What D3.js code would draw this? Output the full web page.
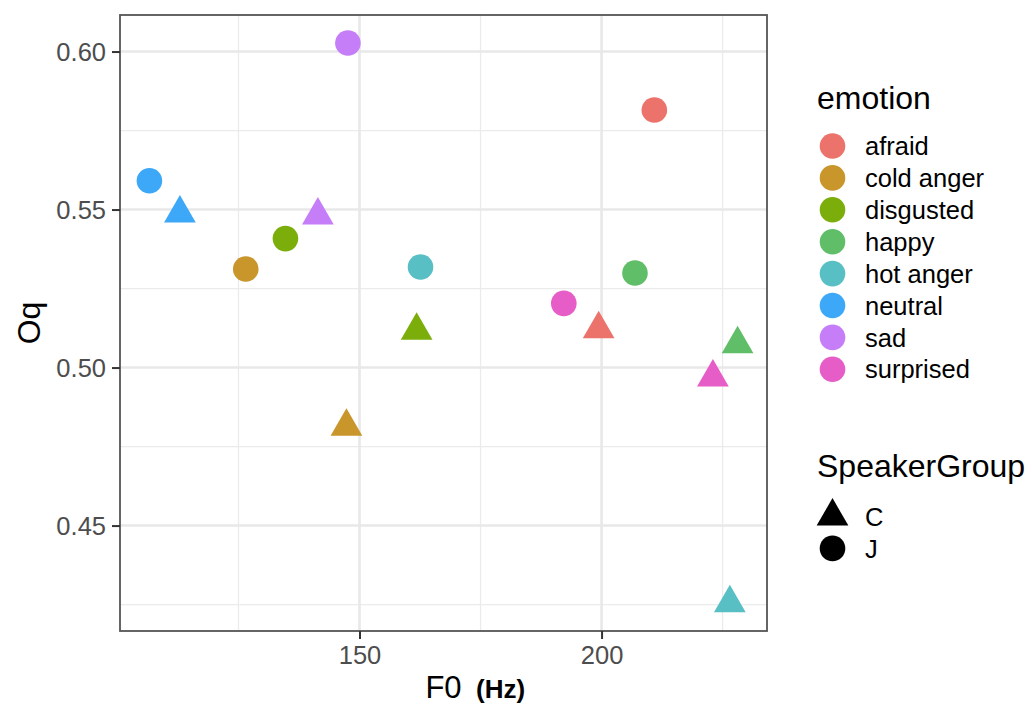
<!DOCTYPE html>
<html>
<head>
<meta charset="utf-8">
<script src="https://cdn.jsdelivr.net/npm/d3@7"></script>
<style>
  html, body { margin: 0; padding: 0; background: #fff; }
  svg { display: block; font-family: "Liberation Sans", Arial, sans-serif; }
</style>
</head>
<body>
<svg id="chart" width="1034" height="706"></svg>
<script>
// Emotion categories and their hue palette
const emotions = ["afraid", "cold anger", "disgusted", "happy", "hot anger", "neutral", "sad", "surprised"];
const emotionColors = ["#EC736B", "#C9962C", "#7BAE0A", "#60BE68", "#58BFC4", "#3DA8F7", "#C57DF8", "#E65DC8"];

// Speaker groups: C drawn as triangles, J as circles
const groups = ["C", "J"];

// Mean F0 (Hz) and Oq per emotion, speaker group J
const f0J = [210.9, 126.5, 134.7, 206.9, 162.6, 106.6, 147.6, 192.2];
const oqJ = [0.5815, 0.5312, 0.5408, 0.5299, 0.5318, 0.5591, 0.6027, 0.5203];

// Mean F0 (Hz) and Oq per emotion, speaker group C
const f0C = [199.4, 147.3, 161.8, 228.1, 226.5, 112.9, 141.4, 223.0];
const oqC = [0.5122, 0.4813, 0.5117, 0.5074, 0.4255, 0.5488, 0.5482, 0.4969];

// Axis breaks
const xMajor = [150, 200];
const xMinor = [125, 175, 225];
const yMajor = [0.45, 0.50, 0.55, 0.60];
const yMinor = [0.425, 0.475, 0.525, 0.575];

const points = [];
emotions.forEach((e, i) => {
  points.push({ emotion: e, group: "J", f0: f0J[i], oq: oqJ[i] });
});
emotions.forEach((e, i) => {
  points.push({ emotion: e, group: "C", f0: f0C[i], oq: oqC[i] });
});

const svg = d3.select("#chart");
const panel = { left: 120, right: 767, top: 15, bottom: 631 };

function padded(ext) {
  const r = ext[1] - ext[0];
  return [ext[0] - 0.05 * r, ext[1] + 0.05 * r];
}
const x = d3.scaleLinear().domain(padded(d3.extent(points, d => d.f0))).range([panel.left, panel.right]);
const y = d3.scaleLinear().domain(padded(d3.extent(points, d => d.oq))).range([panel.bottom, panel.top]);
const color = d3.scaleOrdinal().domain(emotions).range(emotionColors);

const circleR = 12.8;
const triR = 18.3; // circumradius of the triangle symbol
function triPath(cx, cy, r) {
  const h = r * Math.sqrt(3) / 2;
  return `M${cx},${cy - r}L${cx + h},${cy + r / 2}L${cx - h},${cy + r / 2}Z`;
}

// Panel background
svg.append("rect")
  .attr("x", panel.left).attr("y", panel.top)
  .attr("width", panel.right - panel.left).attr("height", panel.bottom - panel.top)
  .attr("fill", "#fff");

// Grid lines
const grid = svg.append("g");
grid.selectAll(".xminor").data(xMinor).join("line")
  .attr("x1", d => x(d)).attr("x2", d => x(d))
  .attr("y1", panel.top).attr("y2", panel.bottom)
  .attr("stroke", "#EBEBEB").attr("stroke-width", 1.3);
grid.selectAll(".yminor").data(yMinor).join("line")
  .attr("y1", d => y(d)).attr("y2", d => y(d))
  .attr("x1", panel.left).attr("x2", panel.right)
  .attr("stroke", "#EBEBEB").attr("stroke-width", 1.3);
grid.selectAll(".xmajor").data(xMajor).join("line")
  .attr("x1", d => x(d)).attr("x2", d => x(d))
  .attr("y1", panel.top).attr("y2", panel.bottom)
  .attr("stroke", "#E8E8E8").attr("stroke-width", 2.6);
grid.selectAll(".ymajor").data(yMajor).join("line")
  .attr("y1", d => y(d)).attr("y2", d => y(d))
  .attr("x1", panel.left).attr("x2", panel.right)
  .attr("stroke", "#E8E8E8").attr("stroke-width", 2.6);

// Points
const marks = svg.append("g");
points.forEach(p => {
  if (p.group === "J") {
    marks.append("circle")
      .attr("cx", x(p.f0)).attr("cy", y(p.oq)).attr("r", circleR)
      .attr("fill", color(p.emotion));
  } else {
    marks.append("path")
      .attr("d", triPath(x(p.f0), y(p.oq), triR))
      .attr("fill", color(p.emotion));
  }
});

// Panel border
svg.append("rect")
  .attr("x", panel.left).attr("y", panel.top)
  .attr("width", panel.right - panel.left).attr("height", panel.bottom - panel.top)
  .attr("fill", "none").attr("stroke", "#555").attr("stroke-width", 1.8);

// Axes
const xAxis = d3.axisBottom(x).tickValues(xMajor).tickSize(8).tickPadding(6).tickFormat(d3.format("d"));
const yAxis = d3.axisLeft(y).tickValues(yMajor).tickSize(8).tickPadding(6).tickFormat(d3.format(".2f"));

const gx = svg.append("g").attr("transform", `translate(0,${panel.bottom})`).call(xAxis);
const gy = svg.append("g").attr("transform", `translate(${panel.left},0)`).call(yAxis);
[gx, gy].forEach(g => {
  g.select(".domain").remove();
  g.selectAll(".tick line").attr("stroke", "#333").attr("stroke-width", 2);
  g.selectAll(".tick text")
    .attr("fill", "#4D4D4D")
    .style("font-size", "25.5px")
    .style("font-family", "'Liberation Sans', Arial, sans-serif");
});
gx.selectAll(".tick text").attr("dy", "0.75em");
gy.selectAll(".tick text").attr("dy", "0.36em");

// Axis titles
svg.append("text")
  .attr("x", (panel.left + panel.right) / 2).attr("y", 698)
  .attr("text-anchor", "middle")
  .style("font-size", "31px").attr("fill", "#000")
  .text("F0");
svg.append("text")
  .attr("x", 476).attr("y", 698)
  .style("font-size", "26px").style("font-weight", "bold").attr("fill", "#000")
  .text("(Hz)");

svg.append("text")
  .attr("transform", `translate(40,${(panel.top + panel.bottom) / 2}) rotate(-90)`)
  .attr("text-anchor", "middle")
  .style("font-size", "32px").attr("fill", "#000")
  .text("Oq");

// Legend: emotion
const legX = 817;
const keyX = 832.5;
const labX = 865;
svg.append("text").attr("x", legX).attr("y", 109)
  .style("font-size", "32px").attr("fill", "#000").text("emotion");
const emoLeg = svg.append("g");
emotions.forEach((e, i) => {
  const cy = 146 + i * 31.9;
  emoLeg.append("circle").attr("cx", keyX).attr("cy", cy).attr("r", circleR).attr("fill", color(e));
  emoLeg.append("text").attr("x", labX).attr("y", cy).attr("dy", "0.36em")
    .style("font-size", "25.5px").attr("fill", "#000").text(e);
});

// Legend: SpeakerGroup
svg.append("text").attr("x", legX).attr("y", 477)
  .style("font-size", "32px").attr("fill", "#000").text("SpeakerGroup");
const grpLeg = svg.append("g");
groups.forEach((g, i) => {
  const cy = 516.4 + i * 32;
  if (g === "C") {
    grpLeg.append("path").attr("d", triPath(keyX, cy, triR)).attr("fill", "#000");
  } else {
    grpLeg.append("circle").attr("cx", keyX).attr("cy", cy).attr("r", circleR).attr("fill", "#000");
  }
  grpLeg.append("text").attr("x", labX).attr("y", cy).attr("dy", "0.36em")
    .style("font-size", "25.5px").attr("fill", "#000").text(g);
});
</script>
</body>
</html>
